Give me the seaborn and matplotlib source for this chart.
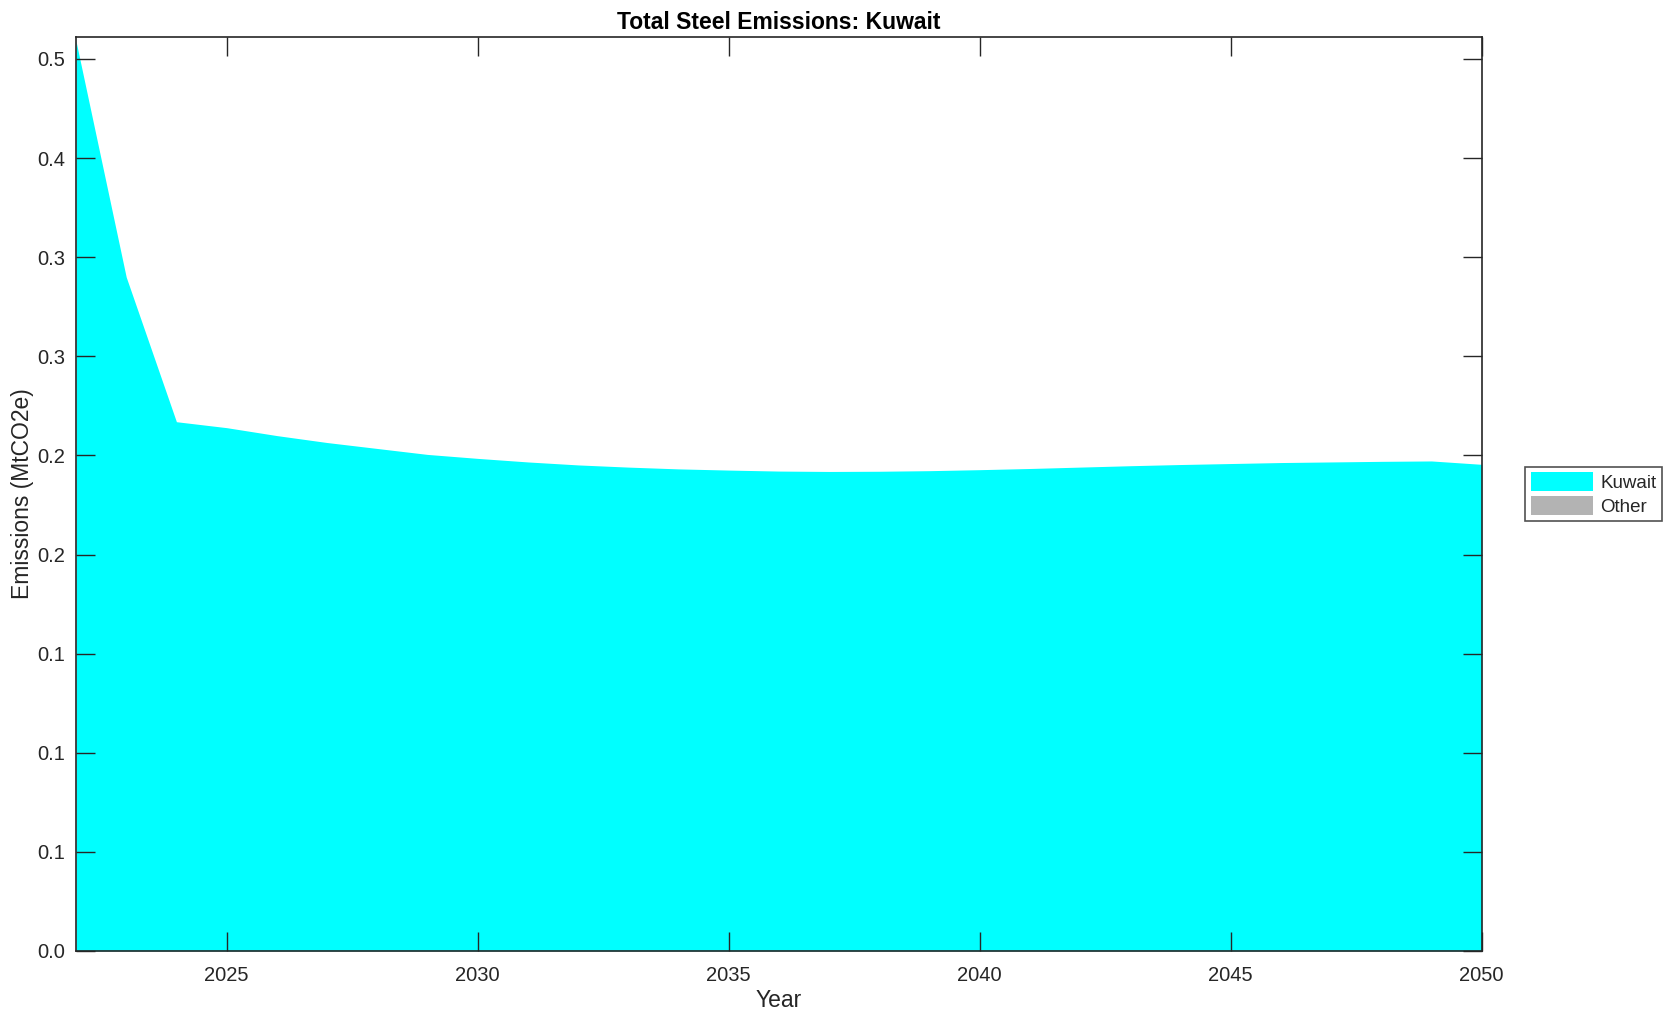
import numpy as np
import pandas as pd
import matplotlib
matplotlib.use("Agg")
import matplotlib.pyplot as plt
import seaborn as sns

years = list(range(2022, 2051))
kuwait = [0.459, 0.340, 0.267, 0.264, 0.260, 0.2565, 0.2535, 0.2505, 0.2485,
          0.2467, 0.2452, 0.2441, 0.2432, 0.2426, 0.2421, 0.2419, 0.2420, 0.2423,
          0.2428, 0.2434, 0.2441, 0.2448, 0.2454, 0.2459, 0.2464, 0.2467, 0.2470,
          0.2472, 0.2455]
other = [0.0] * len(years)
series_names = ["Kuwait", "Other"]
series_colors = ["#00ffff", "#b3b3b3"]
ytick_vals = [0.0, 0.05, 0.1, 0.15, 0.2, 0.25, 0.3, 0.35, 0.4, 0.45]
ytick_labels = ["0.0", "0.1", "0.1", "0.1", "0.2", "0.2", "0.3", "0.3", "0.4", "0.5"]
xtick_vals = [2025, 2030, 2035, 2040, 2045, 2050]

df = pd.DataFrame({"Year": years, "Kuwait": kuwait, "Other": other})

sns.set_theme(style="white")
plt.rcParams['font.family'] = ['Liberation Sans', 'DejaVu Sans']

fig = plt.figure(figsize=(16.78, 10.21), dpi=100)
ax = fig.add_axes([0.0453, 0.0686, 0.8377, 0.8952])

ax.stackplot(df["Year"], df["Kuwait"], df["Other"], labels=series_names,
             colors=series_colors, linewidth=0)
sns.lineplot(data=df, x="Year", y="Kuwait", ax=ax, color=series_colors[0],
             linewidth=0, legend=False)

ax.set_xlim(2022, 2050)
ax.set_ylim(0, 0.4611)
ax.set_yticks(ytick_vals)
ax.set_yticklabels(ytick_labels)
ax.set_xticks(xtick_vals)
ax.tick_params(direction="in", length=14, width=1, color="#262626",
               labelsize=14.5, labelcolor="#262626", top=True, right=True,
               left=True, bottom=True)
ax.tick_params(axis="y", pad=8)
ax.tick_params(axis="x", pad=11)
for s in ax.spines.values():
    s.set_visible(True)
    s.set_color("#262626")
    s.set_linewidth(1.2)
ax.set_axisbelow(False)

ax.set_xlabel("Year", fontsize=16.5, color="#262626", labelpad=3)
ax.set_ylabel("Emissions (MtCO2e)", fontsize=16.5, color="#262626", labelpad=2)
ax.set_title("Total Steel Emissions: Kuwait", fontsize=16.5, fontweight="bold",
             color="black", pad=6)

leg = ax.legend(loc="center left", bbox_to_anchor=(1.031, 0.5), fontsize=13.5,
                frameon=True, fancybox=False, edgecolor="#262626",
                handlelength=3.3, handleheight=1.2, borderpad=0.3,
                labelspacing=0.2, handletextpad=0.4, borderaxespad=0)
leg.get_frame().set_linewidth(1.2)

fig.savefig("out.png", dpi=100, facecolor="white")
